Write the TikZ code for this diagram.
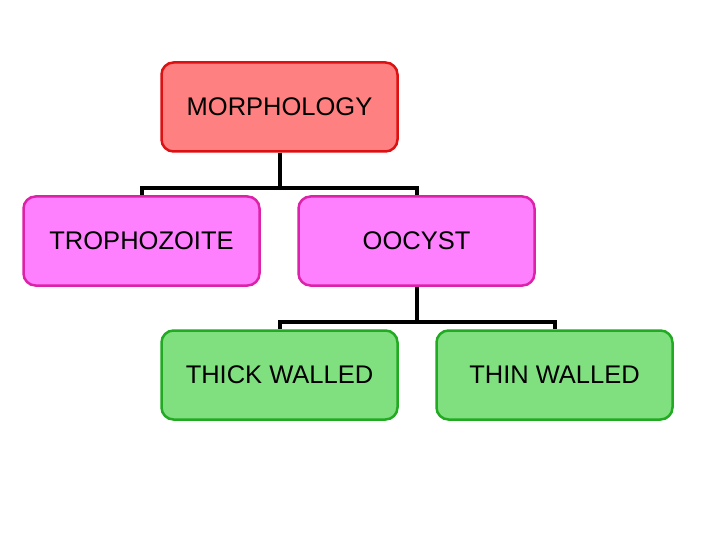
\documentclass[tikz,border=0pt]{standalone}
\usepackage{fontspec}
\setmainfont{Liberation Sans}
\definecolor{redfill}{HTML}{FF8080}
\definecolor{redline}{HTML}{DD1111}
\definecolor{pinkfill}{HTML}{FF80FF}
\definecolor{pinkline}{HTML}{DD22AA}
\definecolor{greenfill}{HTML}{80E080}
\definecolor{greenline}{HTML}{22AA22}
\begin{document}
\begin{tikzpicture}[x=1pt,y=-1pt,
  box/.style={rectangle, rounded corners=12pt, minimum width=236pt, minimum height=89pt,
    line width=2.5pt, inner sep=0pt, font=\fontsize{25.5}{30}\selectfont},
  redbox/.style={box, fill=redfill, draw=redline},
  pinkbox/.style={box, fill=pinkfill, draw=pinkline},
  greenbox/.style={box, fill=greenfill, draw=greenline},
  conn/.style={line width=4pt, black}]
\useasboundingbox[fill=white] (0,0) rectangle (720,540);
\node[redbox] (m) at (279.5,107) {MORPHOLOGY};
\node[pinkbox] (t) at (141.5,241) {TROPHOZOITE};
\node[pinkbox] (o) at (416.5,241) {OOCYST};
\node[greenbox] (k) at (279.5,375) {THICK WALLED};
\node[greenbox] (w) at (554.5,375) {THIN WALLED};
\draw[conn] (m.south) -- ++(0,35) -| (t.north);
\draw[conn] (m.south) -- ++(0,35) -| (o.north);
\draw[conn] (o.south) -- ++(0,35) -| (k.north);
\draw[conn] (o.south) -- ++(0,35) -| (w.north);
\end{tikzpicture}
\end{document}
